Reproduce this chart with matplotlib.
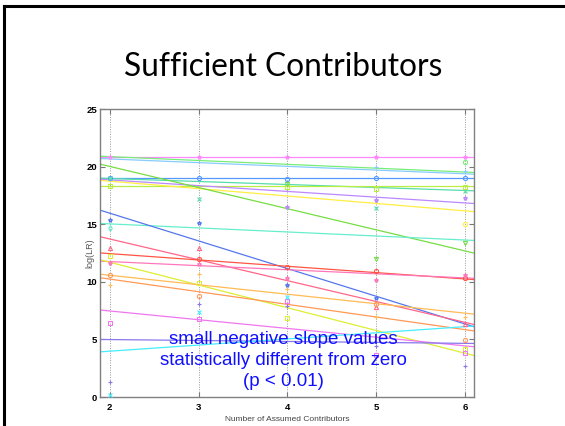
"""Sufficient Contributors slide: log(LR) vs number of assumed contributors."""
import numpy as np
import matplotlib
matplotlib.use("Agg")
from matplotlib import pyplot as plt
from matplotlib.lines import Line2D

nan = np.nan

contributors = [2, 3, 4, 5, 6]

# fitted line values at x = 2 and x = 6, one per sample
line_at2 = [20.8, 20.87, 20.67, 19.0, 18.97, 18.3, 18.85, 18.74, 20.02, 15.03,
            15.96, 13.72, 12.45, 11.76, 11.7, 10.57, 10.24, 7.47, 4.99, 3.98]
line_at6 = [20.8, 19.53, 19.38, 19.0, 17.93, 18.3, 16.85, 16.16, 12.68, 13.63,
            6.34, 6.48, 10.25, 10.34, 3.8, 7.28, 5.85, 4.44, 4.66, 6.11]

# observed log(LR) per sample at 2..6 contributors (nan = not visible)
points = [
    [20.86, 20.86, 20.86, 20.86, 20.8],
    [nan, nan, nan, nan, 20.4],
    [nan, nan, 18.7, 20.0, 19.65],
    [18.98, 18.98, 18.9, 18.98, 18.98],
    [19.05, 17.15, nan, 16.4, 17.9],
    [18.3, nan, 18.26, 18.1, 18.26],
    [nan, nan, 16.5, 17.1, 17.3],
    [nan, nan, nan, nan, 15.0],
    [nan, nan, 18.46, 12.0, 13.4],
    [14.7, nan, nan, nan, nan],
    [15.4, 15.1, 9.7, 8.57, nan],
    [12.97, 12.97, nan, 7.85, 6.34],
    [nan, 12.0, 11.3, 10.9, 10.3],
    [11.66, 11.55, 10.3, 10.2, 10.6],
    [12.25, 9.9, 6.9, nan, 4.2],
    [9.7, 10.7, 9.35, 6.97, 6.97],
    [10.6, 8.8, nan, 8.05, 4.95],
    [6.4, 6.74, 8.33, 3.65, 3.8],
    [1.3, 8.05, 7.9, 4.4, 2.7],
    [0.2, 7.4, 8.65, nan, nan],
]

colors = ["#ff88ff", "#77ee77", "#88ccff", "#5599ff", "#55ddaa", "#bbee44",
          "#bb88ff", "#ffee44", "#77dd44", "#66eecc", "#5577ee", "#ff6688",
          "#ff5544", "#ff77bb", "#ddee33", "#ffbb55", "#ff9955", "#ee77ee",
          "#8877ee", "#44eeff"]
markers = ["*", "o", "+", "o", "x", "s", "*", "o", "v", "d",
           "*", "^", "o", "*", "s", "+", "o", "s", "+", "x"]

fig = plt.figure(figsize=(5.65, 4.26), dpi=100)
fig.patch.set_facecolor("white")

# slide frame (left and top edges)
fig.add_artist(Line2D([0.007, 0.007], [0.0, 0.986], color="black", lw=2.2))
fig.add_artist(Line2D([0.007, 1.0], [0.986, 0.986], color="black", lw=2.2))

fig.text(0.502, 0.843, "Sufficient Contributors", ha="center", va="center",
         fontsize=22.8, family="Lato", color="black")

ax = fig.add_axes([0.177, 0.068, 0.662, 0.676])
for x in contributors:
    ax.axvline(x, color="#9a9a9a", linestyle=(0, (1, 1.5)), lw=0.7, zorder=0)

for k in range(len(colors)):
    ax.axline((2, line_at2[k]), (6, line_at6[k]), color=colors[k], lw=0.9, zorder=2)
    ax.plot(contributors, points[k], linestyle="none", marker=markers[k],
            color=colors[k], markersize=3, markeredgewidth=0.8,
            markerfacecolor="none", zorder=3)

ax.set_xlim(1.89, 6.1)
ax.set_ylim(0, 25)
ax.set_xticks(contributors)
ax.set_yticks([0, 5, 10, 15, 20, 25])
ax.tick_params(direction="in", length=3.5, width=0.8, color="#777777",
               top=True, right=True, labelsize=6.8, pad=2)
ax.tick_params(axis="x", pad=4)
for lab in ax.get_xticklabels() + ax.get_yticklabels():
    lab.set_fontweight("bold")
    lab.set_family("Liberation Sans")
for s in ax.spines.values():
    s.set_color("#808080")
    s.set_linewidth(1.0)
ax.set_xlabel("Number of Assumed Contributors", fontsize=6, color="#444444",
              family="Liberation Sans", labelpad=3)
ax.set_ylabel("log(LR)", fontsize=6.5, color="#555555", family="Liberation Sans")
ax.yaxis.set_label_coords(-0.016, 0.5)

ax.text(0.49, 0.128, "small negative slope values\nstatistically different from zero\n(p < 0.01)",
        transform=ax.transAxes, ha="center", va="center", fontsize=13.5,
        family="Liberation Sans", color="#1010ff", linespacing=1.3, zorder=5)

fig.savefig("out.png", dpi=100)
